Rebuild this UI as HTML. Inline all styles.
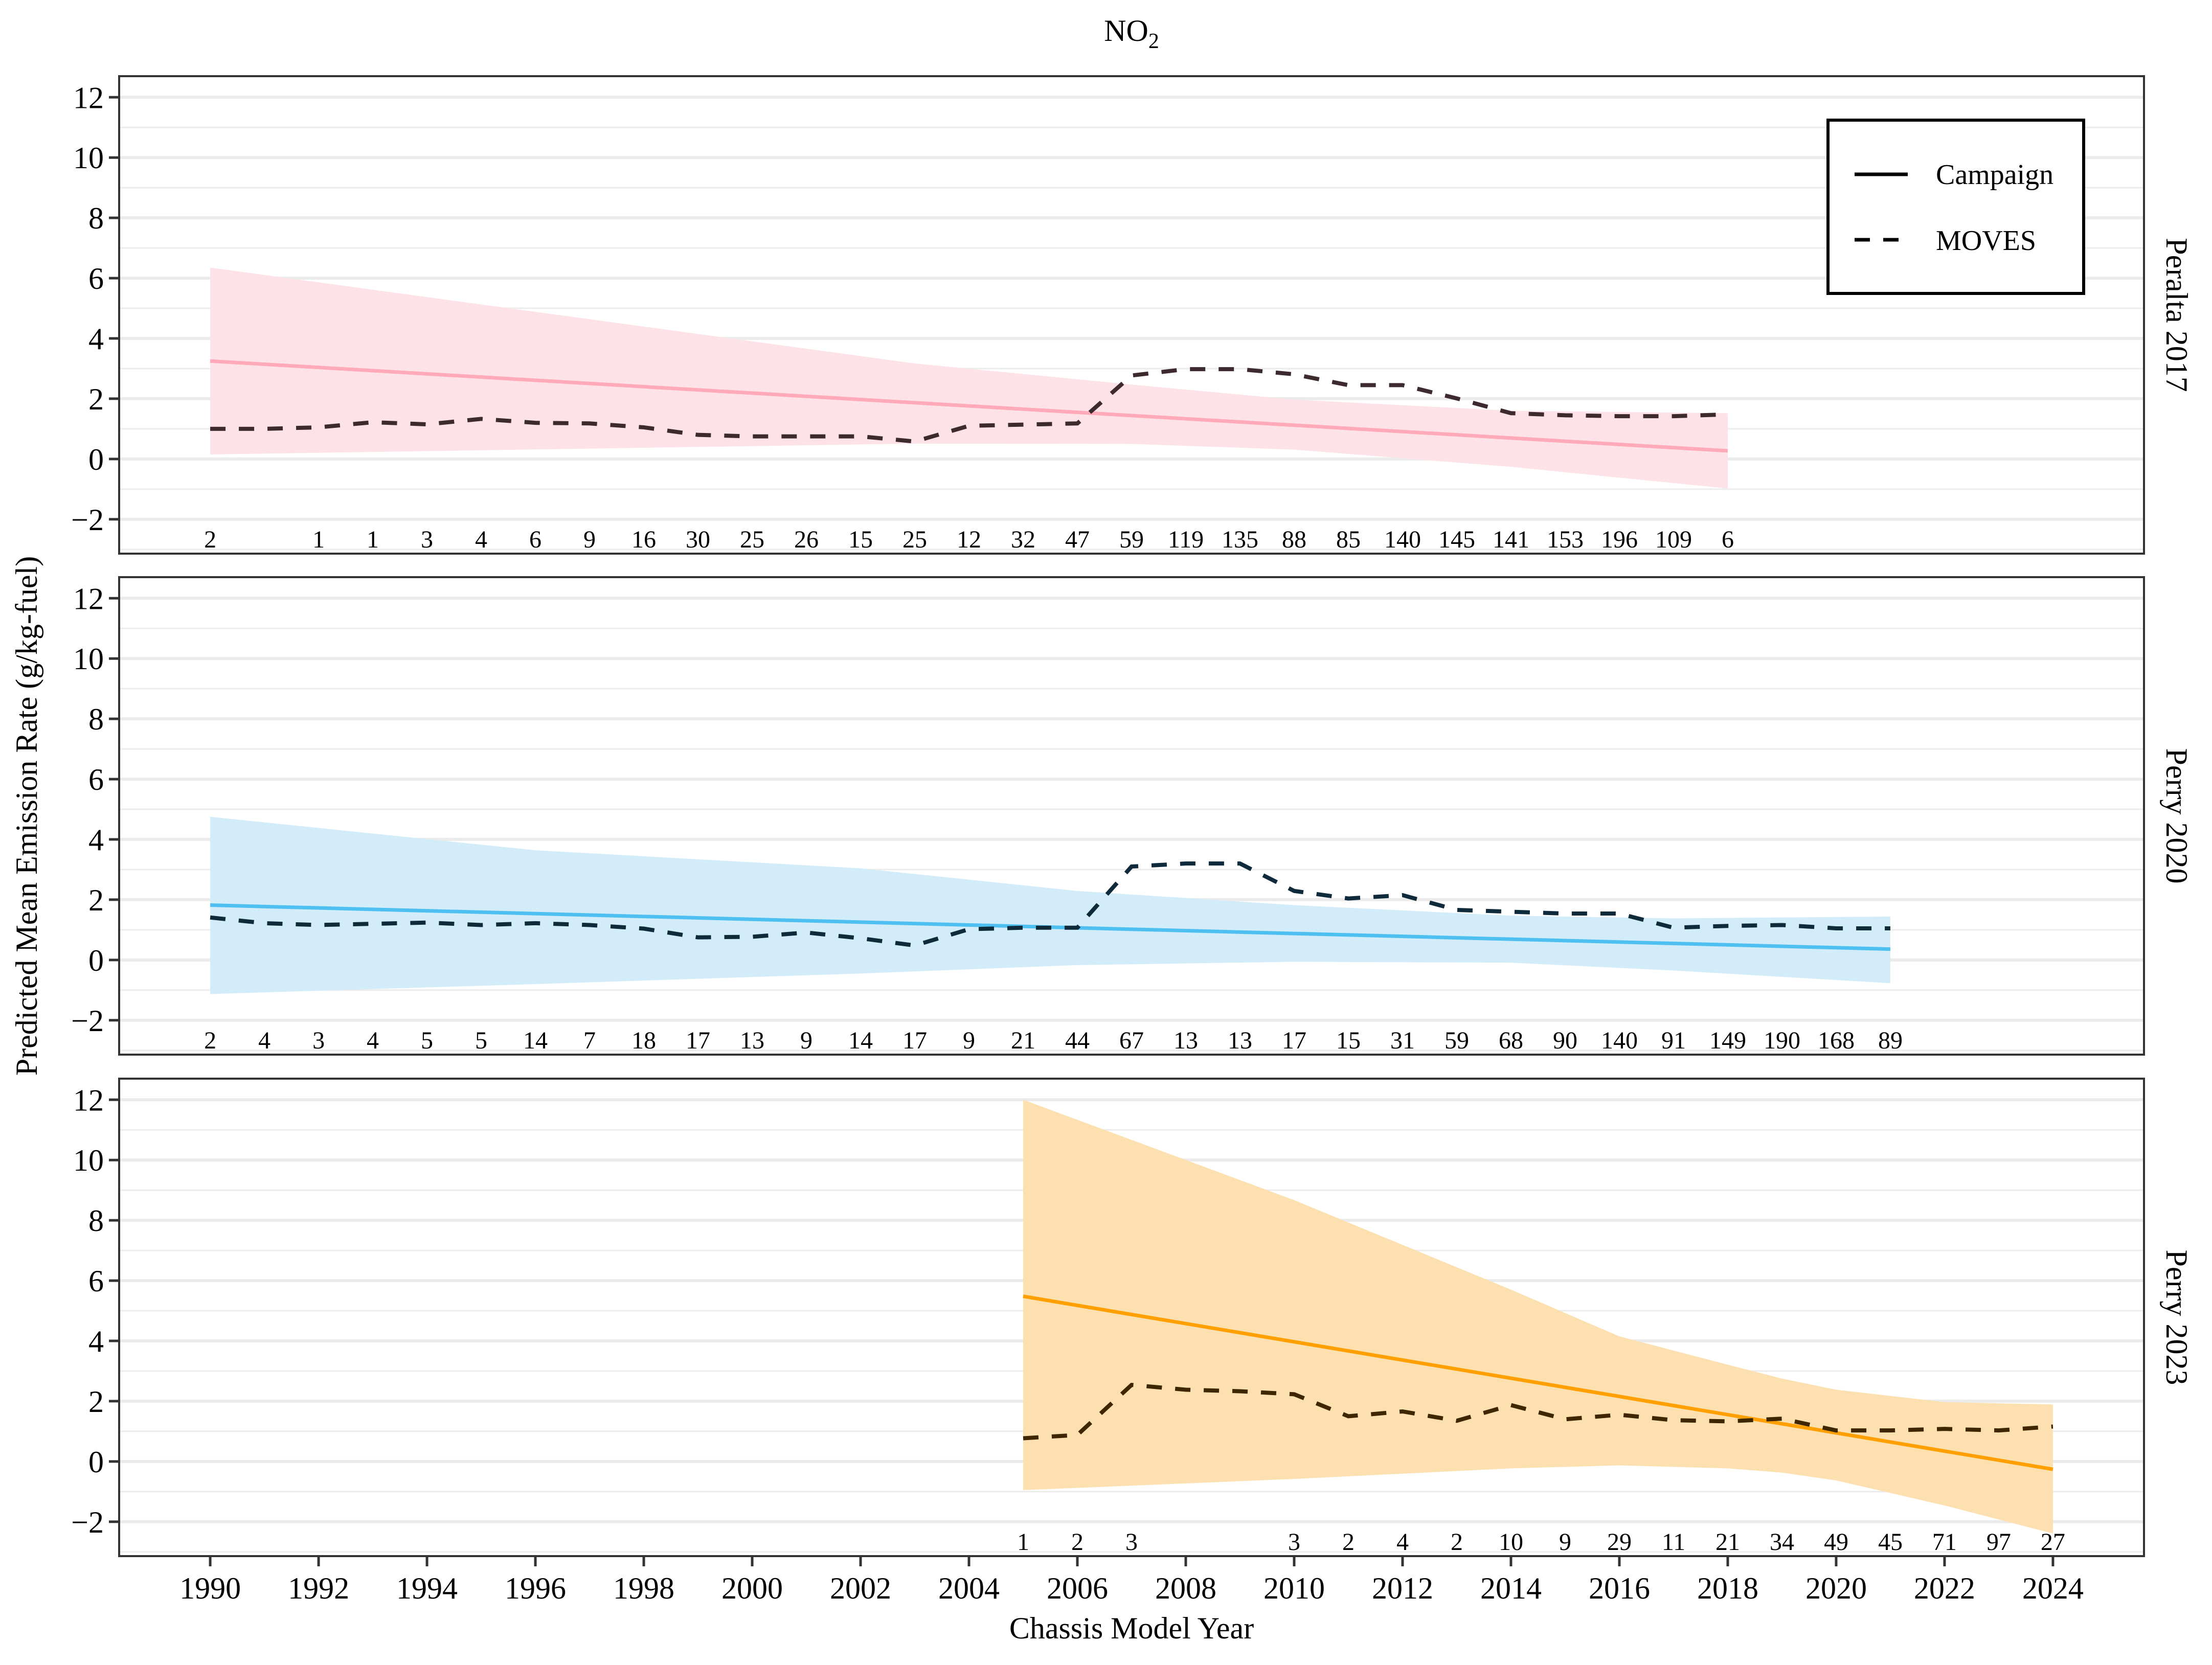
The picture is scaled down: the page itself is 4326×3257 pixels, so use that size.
<!DOCTYPE html>
<html><head><meta charset="utf-8"><style>
html,body{margin:0;padding:0;background:#fff;}
svg{display:block;font-family:"Liberation Serif",serif;}
</style></head><body>
<svg id="chart" width="4326" height="3257" viewBox="0 0 4326 3257" xmlns="http://www.w3.org/2000/svg">
<text x="2213" y="80" font-size="60" text-anchor="middle">NO<tspan font-size="42" dy="14">2</tspan></text>
<text transform="translate(72,1596) rotate(-90)" font-size="60" text-anchor="middle">Predicted Mean Emission Rate (g/kg-fuel)</text>
<text x="2213" y="3205" font-size="60" text-anchor="middle">Chassis Model Year</text>
<g id="panels"></g>
<g>
<rect x="3575" y="235" width="500" height="339" fill="#fff" stroke="#000" stroke-width="6"/>
<line x1="3627" y1="341" x2="3731" y2="341" stroke="#000" stroke-width="7"/>
<text x="3786" y="360" font-size="56">Campaign</text>
<line x1="3627" y1="469" x2="3731" y2="469" stroke="#000" stroke-width="7" stroke-dasharray="30,26"/>
<text x="3786" y="489" font-size="56">MOVES</text>
</g>
</svg>
<script>
// ---- data ----
const p1Years = [1990,1991,1992,1993,1994,1995,1996,1997,1998,1999,2000,2001,2002,2003,2004,2005,2006,2007,2008,2009,2010,2011,2012,2013,2014,2015,2016,2017,2018];
const p1Moves = [1.0,1.0,1.05,1.22,1.15,1.33,1.2,1.18,1.05,0.8,0.75,0.75,0.75,0.58,1.1,1.14,1.18,2.77,2.98,2.98,2.81,2.45,2.45,2.01,1.52,1.45,1.42,1.42,1.48];
const p1CountYears = [1990,1992,1993,1994,1995,1996,1997,1998,1999,2000,2001,2002,2003,2004,2005,2006,2007,2008,2009,2010,2011,2012,2013,2014,2015,2016,2017,2018];
const p1Counts = [2,1,1,3,4,6,9,16,30,25,26,15,25,12,32,47,59,119,135,88,85,140,145,141,153,196,109,6];
const p1FitYears = [1990,2018];
const p1Fit = [3.25,0.27];
const p1BandYears = [1990,2003,2007,2010,2014,2018];
const p1Upper = [6.35,3.17,2.47,1.97,1.6,1.52];
const p1Lower = [0.15,0.51,0.5,0.31,-0.26,-0.98];

const p2Years = [1990,1991,1992,1993,1994,1995,1996,1997,1998,1999,2000,2001,2002,2003,2004,2005,2006,2007,2008,2009,2010,2011,2012,2013,2014,2015,2016,2017,2018,2019,2020,2021];
const p2Moves = [1.41,1.22,1.16,1.2,1.24,1.16,1.22,1.16,1.04,0.75,0.77,0.91,0.72,0.48,1.02,1.07,1.07,3.1,3.2,3.2,2.29,2.04,2.15,1.66,1.6,1.54,1.54,1.07,1.13,1.16,1.05,1.05];
const p2CountYears = p2Years;
const p2Counts = [2,4,3,4,5,5,14,7,18,17,13,9,14,17,9,21,44,67,13,13,17,15,31,59,68,90,140,91,149,190,168,89];
const p2FitYears = [1990,2021];
const p2Fit = [1.82,0.36];
const p2BandYears = [1990,1996,2002,2006,2010,2014,2017,2021];
const p2Upper = [4.75,3.64,3.04,2.29,1.82,1.47,1.38,1.44];
const p2Lower = [-1.13,-0.8,-0.45,-0.17,-0.06,-0.09,-0.35,-0.77];

const p3Years = [2005,2006,2007,2008,2009,2010,2011,2012,2013,2014,2015,2016,2017,2018,2019,2020,2021,2022,2023,2024];
const p3Moves = [0.77,0.88,2.54,2.38,2.33,2.23,1.5,1.66,1.35,1.87,1.4,1.55,1.37,1.33,1.42,1.03,1.03,1.08,1.03,1.16];
const p3CountYears = [2005,2006,2007,2010,2011,2012,2013,2014,2015,2016,2017,2018,2019,2020,2021,2022,2023,2024];
const p3Counts = [1,2,3,3,2,4,2,10,9,29,11,21,34,49,45,71,97,27];
const p3FitYears = [2005,2024];
const p3Fit = [5.48,-0.26];
const p3BandYears = [2005,2010,2014,2016,2018,2019,2020,2022,2024];
const p3Upper = [12.0,8.67,5.7,4.15,3.21,2.75,2.38,1.97,1.89];
const p3Lower = [-0.95,-0.58,-0.23,-0.13,-0.23,-0.37,-0.63,-1.46,-2.39];

const yTicks = [-2,0,2,4,6,8,10,12];
const xTicks = [1990,1992,1994,1996,1998,2000,2002,2004,2006,2008,2010,2012,2014,2016,2018,2020,2022,2024];
const stripLabels = ["Peralta 2017","Perry 2020","Perry 2023"];

// ---- layout ----
const NS = "http://www.w3.org/2000/svg";
const L = 233, R = 4193, PH = 934;
const tops = [149,1129,2110];
const xMin = 1988.32, xMax = 2025.68, yMin = -3.14, yMax = 12.70;
const xs = y => L + (y - xMin) / (xMax - xMin) * (R - L);
const mkY = top => v => top + (yMax - v) / (yMax - yMin) * PH;

const panels = [
 {years:p1Years,moves:p1Moves,cy:p1CountYears,counts:p1Counts,fy:p1FitYears,fit:p1Fit,by:p1BandYears,up:p1Upper,lo:p1Lower,line:"#ffa9b9",band:"#fde3e8",dash:"#3d2a2e",key:"peralta-2017"},
 {years:p2Years,moves:p2Moves,cy:p2CountYears,counts:p2Counts,fy:p2FitYears,fit:p2Fit,by:p2BandYears,up:p2Upper,lo:p2Lower,line:"#4dbff0",band:"#d3ecf9",dash:"#0f2a3a",key:"perry-2020"},
 {years:p3Years,moves:p3Moves,cy:p3CountYears,counts:p3Counts,fy:p3FitYears,fit:p3Fit,by:p3BandYears,up:p3Upper,lo:p3Lower,line:"#ff9f00",band:"#fde0b0",dash:"#3d2600",key:"perry-2023"}
];
const root = document.getElementById("panels");
function el(tag, attrs, parent){const e=document.createElementNS(NS,tag);for(const k in attrs)e.setAttribute(k,attrs[k]);(parent||root).appendChild(e);return e;}

panels.forEach((p,i)=>{
  const top = tops[i], ys = mkY(top);
  const g = el("g",{});
  
  
  for (let v=-3; v<=11; v+=2){
    const ln = el("line",{x1:L,x2:R,y1:ys(v),y2:ys(v),stroke:"#ececec","stroke-width":3},g);
    
    
  }
  yTicks.forEach(v=>{
    const ln = el("line",{x1:L,x2:R,y1:ys(v),y2:ys(v),stroke:"#ebebeb","stroke-width":6},g);
    
    
    const tk = el("line",{x1:L-20,x2:L,y1:ys(v),y2:ys(v),stroke:"#333","stroke-width":5},g);
    
    
    const t = el("text",{x:L-30,y:ys(v)+21,"font-size":60,"text-anchor":"end"},g);
    t.textContent = v<0 ? "\u2212"+Math.abs(v) : String(v);
    
    
  });
  let d = p.by.map((y,j)=>(j?"L":"M")+xs(y)+","+ys(p.up[j])).join(" ");
  for (let j=p.by.length-1;j>=0;j--) d += " L"+xs(p.by[j])+","+ys(p.lo[j]);
  const band = el("path",{d:d+" Z",fill:p.band,stroke:"none"},g);
  
  
  const fit = el("line",{x1:xs(p.fy[0]),y1:ys(p.fit[0]),x2:xs(p.fy[1]),y2:ys(p.fit[1]),stroke:p.line,"stroke-width":7},g);
  
  
  const mv = el("polyline",{points:p.years.map((y,j)=>xs(y)+","+ys(p.moves[j])).join(" "),fill:"none",stroke:p.dash,"stroke-width":8,"stroke-dasharray":"30,26"},g);
  
  
  p.cy.forEach((y,j)=>{
    const t = el("text",{x:xs(y),y:top+PH-12,"font-size":48,"text-anchor":"middle"},g);
    t.textContent = p.counts[j];
    
    
  });
  const b = el("rect",{x:L,y:top,width:R-L,height:PH,fill:"none",stroke:"#333","stroke-width":4},g);
  
  
  const s = el("text",{transform:"translate(4237,"+(top+PH/2)+") rotate(90)","font-size":60,"text-anchor":"middle"},g);
  s.textContent = stripLabels[i];
  
  
});
const bot = tops[2]+PH;
xTicks.forEach(y=>{
  const tk = el("line",{x1:xs(y),x2:xs(y),y1:bot,y2:bot+20,stroke:"#333","stroke-width":5});
  
  
  const t = el("text",{x:xs(y),y:3127,"font-size":60,"text-anchor":"middle"});
  t.textContent = y;
  
  
});
</script>
</body></html>
